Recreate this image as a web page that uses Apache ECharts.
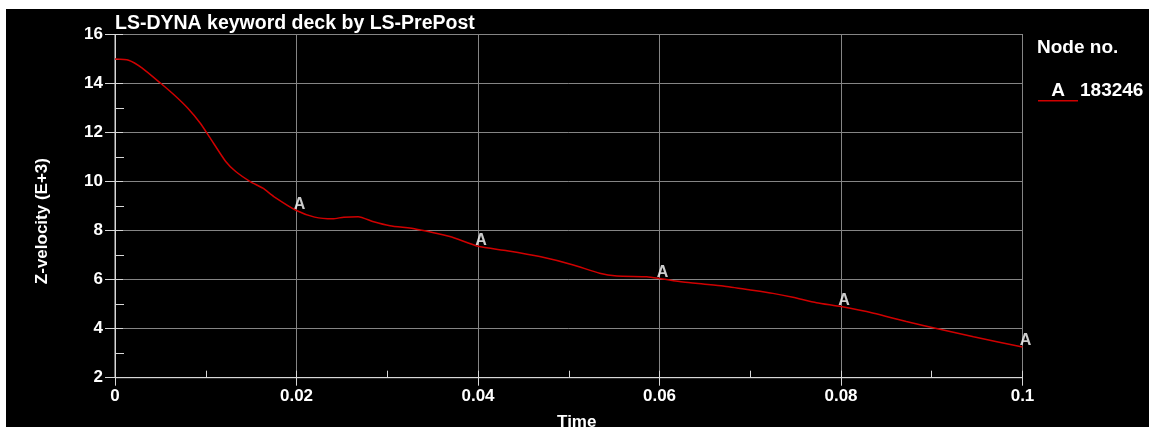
<!DOCTYPE html>
<html>
<head>
<meta charset="utf-8">
<script src="https://cdn.jsdelivr.net/npm/echarts@6/dist/echarts.min.js"></script>
<style>
html,body{margin:0;padding:0;background:#fff;}
#chart{position:absolute;left:6px;top:9px;width:1143px;height:418px;background:#000;}
</style>
</head>
<body>
<div id="chart"></div>
<script>
// time values (s)
var tiempos = [0, 0.0015, 0.003, 0.005, 0.0065, 0.008, 0.0094, 0.0105, 0.0122, 0.0133, 0.0149, 0.0163, 0.0175,
	0.02, 0.022, 0.024, 0.0252, 0.0268, 0.0285, 0.0303, 0.0332, 0.0369, 0.04, 0.0432, 0.0468, 0.0505, 0.0534,
	0.0553, 0.0586, 0.06, 0.0626, 0.0648, 0.067, 0.07, 0.0725, 0.0747, 0.0773, 0.08, 0.0836, 0.0872, 0.0909,
	0.0946, 0.1];
// Z-velocity (E+3)
var velocidades = [15.0, 14.95, 14.63, 14.02, 13.54, 13.0, 12.38, 11.77, 10.82, 10.41, 10.0, 9.73, 9.39,
	8.82, 8.55, 8.48, 8.55, 8.57, 8.36, 8.2, 8.06, 7.76, 7.36, 7.18, 6.94, 6.6, 6.26,
	6.15, 6.12, 6.05, 5.9, 5.82, 5.74, 5.58, 5.44, 5.28, 5.06, 4.9, 4.63, 4.29, 3.98,
	3.67, 3.25];
// where the "A" labels sit
var tiemposMarca = [0.02, 0.04, 0.06, 0.08, 0.1];
var nodo = '183246';

var fuente = "'Liberation Sans', Arial, sans-serif";

var datosLinea = [];
for (var i = 0; i < tiempos.length; i++) {
	datosLinea.push([tiempos[i], velocidades[i]]);
}
var datosMarca = [];
for (var j = 0; j < tiemposMarca.length; j++) {
	var k = tiempos.indexOf(tiemposMarca[j]);
	datosMarca.push([tiempos[k], velocidades[k]]);
}

// underline for the legend "A"
var raya = document.createElement('canvas');
raya.width = 40; raya.height = 22;
var ctx = raya.getContext('2d');
ctx.fillStyle = '#d00000';
ctx.fillRect(0, 20, 40, 1.5);

var dom = document.getElementById("chart");
var myChart = echarts.init(dom);
var option = {
	backgroundColor: '#000',
	animation: false,
	title: [{
		text: 'LS-DYNA keyword deck by LS-PrePost',
		left: 109,
		top: 5,
		padding: 0,
		textStyle: {color: '#fff', fontFamily: fuente, fontSize: 19.5, fontWeight: 'bold'}
	}, {
		text: 'Node no.',
		left: 1031,
		top: 29,
		padding: 0,
		textStyle: {color: '#fff', fontFamily: fuente, fontSize: 19, fontWeight: 'bold'}
	}],
	legend: {
		data: [nodo],
		left: 1026,
		top: 71,
		padding: 0,
		itemWidth: 0,
		itemHeight: 0,
		selectedMode: false,
		formatter: function (name) {
			return '{a|A}{b|' + name + '}';
		},
		textStyle: {
			color: '#fff',
			fontFamily: fuente,
			fontSize: 19,
			fontWeight: 'bold',
			rich: {
				a: {width: 40, height: 22, align: 'center', color: '#fff', fontFamily: fuente, fontSize: 19, fontWeight: 'bold',
					backgroundColor: {image: raya}},
				b: {padding: [0, 0, 0, 2], color: '#fff', fontFamily: fuente, fontSize: 19, fontWeight: 'bold'}
			}
		}
	},
	grid: {
		left: 109,
		top: 25.5,
		right: 126.5,
		bottom: 49.3,
		outerBoundsMode: 'none',
		containLabel: false,
		show: true,
		borderColor: '#d8d8d8',
		borderWidth: 1
	},
	xAxis: [{
		type: 'value',
		position: 'bottom',
		min: 0,
		max: 0.1,
		interval: 0.02,
		name: 'Time',
		nameLocation: 'middle',
		nameGap: 36,
		nameTextStyle: {color: '#fff', fontFamily: fuente, fontSize: 17, fontWeight: 'bold', padding: [0, 0, 0, 16]},
		axisLine: {show: true, lineStyle: {color: '#d8d8d8', width: 1}},
		axisTick: {show: true, inside: true, length: 7, lineStyle: {color: '#d8d8d8'}},
		minorTick: {show: true, splitNumber: 2, length: 7, lineStyle: {color: '#d8d8d8'}},
		splitLine: {show: true, lineStyle: {color: '#858585', width: 1}},
		axisLabel: {
			color: '#fff', fontFamily: fuente, fontSize: 17, fontWeight: 'bold', margin: 10,
			formatter: function (v) { return String(+v.toFixed(2)); }
		}
	}, {
		type: 'value',
		position: 'bottom',
		min: 0,
		max: 0.1,
		interval: 0.02,
		axisLine: {show: false},
		axisTick: {show: true, inside: false, length: 8, lineStyle: {color: '#d8d8d8'}},
		splitLine: {show: false},
		axisLabel: {show: false}
	}],
	yAxis: [{
		type: 'value',
		position: 'left',
		min: 2,
		max: 16,
		interval: 2,
		name: 'Z-velocity (E+3)',
		nameLocation: 'middle',
		nameRotate: 90,
		nameGap: 64,
		nameTextStyle: {color: '#fff', fontFamily: fuente, fontSize: 17, fontWeight: 'bold', padding: [0, 30, 0, 0]},
		axisLine: {show: true, lineStyle: {color: '#d8d8d8', width: 1}},
		axisTick: {show: true, inside: true, length: 8, lineStyle: {color: '#d8d8d8'}},
		minorTick: {show: true, splitNumber: 2, length: 9, lineStyle: {color: '#d8d8d8'}},
		splitLine: {show: true, lineStyle: {color: '#858585', width: 1}},
		axisLabel: {color: '#fff', fontFamily: fuente, fontSize: 17, fontWeight: 'bold', margin: 12}
	}, {
		type: 'value',
		position: 'left',
		min: 2,
		max: 16,
		interval: 2,
		axisLine: {show: false},
		axisTick: {show: true, inside: false, length: 10, lineStyle: {color: '#d8d8d8'}},
		splitLine: {show: false},
		axisLabel: {show: false}
	}],
	series: [{
		name: nodo,
		type: 'line',
		data: datosLinea,
		smooth: 0.2,
		showSymbol: false,
		symbol: 'none',
		color: '#d00000',
		lineStyle: {color: '#d00000', width: 1.5}
	}, {
		name: 'marcas',
		type: 'scatter',
		data: datosMarca,
		symbolSize: 0,
		silent: true,
		label: {
			show: true,
			formatter: 'A',
			position: 'top',
			distance: 0,
			offset: [3, 2],
			color: '#fff',
			fontFamily: fuente,
			fontSize: 16,
			fontWeight: 'bold'
		}
	}]
};
if (option && typeof option === "object") {
	myChart.setOption(option, true);
}
</script>
</body>
</html>
